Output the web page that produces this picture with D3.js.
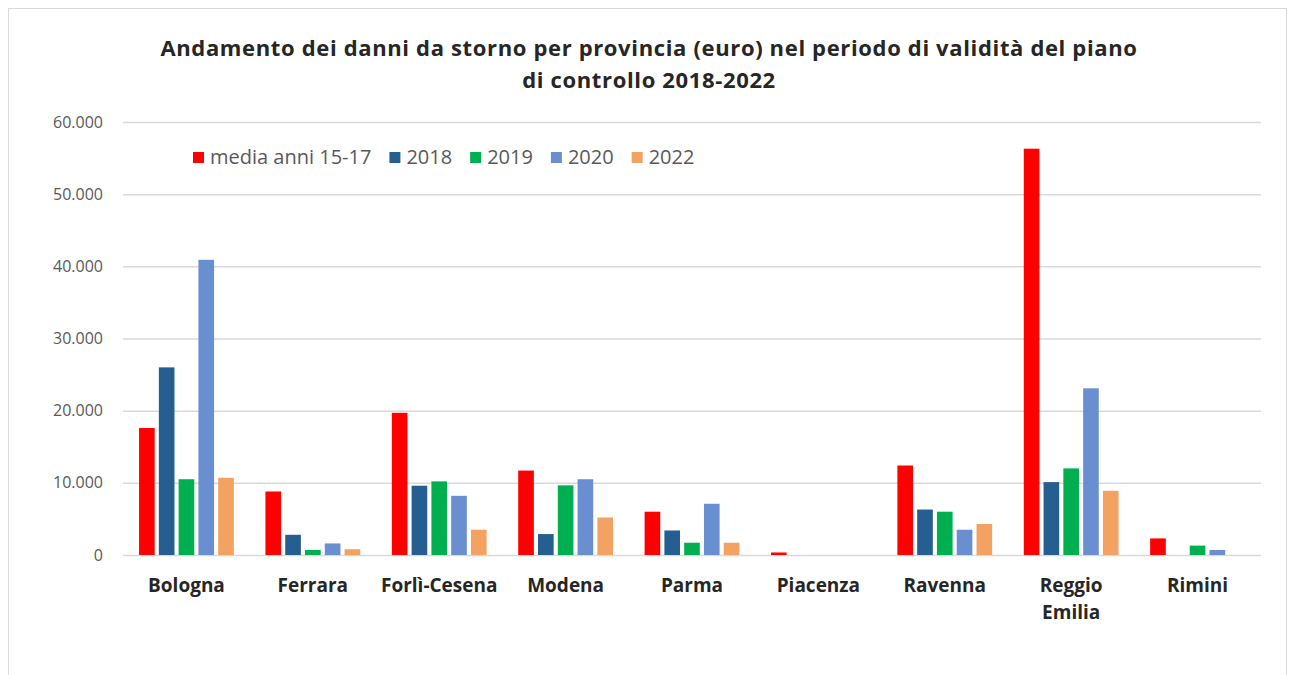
<!DOCTYPE html>
<html>
<head>
<meta charset="utf-8">
<script src="https://cdn.jsdelivr.net/npm/d3@7"></script>
<style>
  html, body { margin: 0; padding: 0; background: #fff; }
  svg { display: block; }
</style>
</head>
<body>
<svg id="chart" width="1290" height="675"></svg>
<script>
const categories = ["Bologna", "Ferrara", "Forlì-Cesena", "Modena", "Parma", "Piacenza", "Ravenna", "Reggio Emilia", "Rimini"];
const seriesNames = ["media anni 15-17", "2018", "2019", "2020", "2022"];
const media1517 = [17600, 8800, 19700, 11700, 6000, 350, 12400, 56300, 2300];
const y2018 = [26000, 2800, 9600, 2900, 3400, 0, 6300, 10100, 0];
const y2019 = [10500, 700, 10200, 9650, 1700, 0, 6000, 12000, 1300];
const y2020 = [40900, 1600, 8200, 10500, 7100, 0, 3500, 23100, 700];
const y2022 = [10700, 800, 3500, 5200, 1700, 0, 4300, 8900, 0];
const yTicks = [0, 10000, 20000, 30000, 40000, 50000, 60000];
const colors = ["#ff0000", "#255e91", "#00b050", "#6a8fd1", "#f4a261"];
const titleLines = ["Andamento dei danni da storno per provincia (euro) nel periodo di validità del piano", "di controllo 2018-2022"];

const seriesValues = [media1517, y2018, y2019, y2020, y2022];
const svg = d3.select("#chart");
const font = "'Open Sans', sans-serif";

// frame
svg.append("rect").attr("x", 8.5).attr("y", 8.5).attr("width", 1278).attr("height", 700)
  .attr("fill", "#fff").attr("stroke", "#d9d9d9");

const mLeft = 123, mRight = 1261, mTop = 122, mBottom = 555;
const x0 = d3.scaleBand().domain(categories).range([mLeft, mRight]).paddingInner(0.25).paddingOuter(0.127);
const x1 = d3.scaleBand().domain(seriesNames).range([0, x0.bandwidth()]).paddingInner(0.21);
const y = d3.scaleLinear().domain([0, 60000]).range([mBottom, mTop]);

const loc = d3.formatLocale({decimal: ",", thousands: ".", grouping: [3], currency: ["", "€"]});
const fmt = loc.format(",.0f");

// gridlines
const yAxis = d3.axisLeft(y).tickValues(yTicks).tickFormat(fmt).tickSize(-(mRight - mLeft)).tickPadding(20);
const gy = svg.append("g").attr("transform", `translate(${mLeft},0)`).call(yAxis);
gy.select(".domain").remove();
gy.selectAll(".tick line").attr("stroke", "#d9d9d9").attr("stroke-width", 1.5);
gy.selectAll(".tick text").attr("fill", "#595959").style("font-family", font).style("font-size", "16px");

// bars
const groups = svg.append("g").selectAll("g").data(categories).join("g")
  .attr("transform", d => `translate(${x0(d)},0)`);
groups.selectAll("rect").data((d, i) => seriesNames.map((s, j) => ({s, j, v: seriesValues[j][i]})))
  .join("rect")
  .attr("x", d => x1(d.s))
  .attr("width", x1.bandwidth())
  .attr("y", d => y(d.v))
  .attr("height", d => y(0) - y(d.v))
  .attr("fill", d => colors[d.j]);

// x labels
const xAxis = d3.axisBottom(x0).tickSize(0).tickPadding(30);
const gx = svg.append("g").attr("transform", `translate(0,${mBottom})`).call(xAxis);
gx.select(".domain").remove();
gx.selectAll(".tick text").attr("fill", "#262626").style("font-family", font).style("font-size", "19px").style("font-weight", "bold")
  .each(function(d) {
    const t = d3.select(this);
    const words = d.split(" ");
    if (words.length > 1) {
      t.text(null);
      words.forEach((w, k) => t.append("tspan").attr("x", 0).attr("dy", k === 0 ? "0.35em" : "1.45em").text(w));
      t.attr("dy", null);
    } else {
      t.attr("dy", "0.35em");
    }
  });

// title
const title = svg.append("text").attr("text-anchor", "middle").attr("fill", "#262626")
  .style("font-family", font).style("font-size", "22px").style("font-weight", "bold").style("letter-spacing", "0.65px");
titleLines.forEach((l, k) => title.append("tspan").attr("x", 649).attr("y", 56 + k * 32).text(l));

// legend
const legend = svg.append("g").attr("transform", "translate(193,157)");
let lx = 0;
seriesNames.forEach((s, j) => {
  const g = legend.append("g").attr("transform", `translate(${lx},0)`);
  g.append("rect").attr("x", 0).attr("y", -5).attr("width", 11).attr("height", 11).attr("fill", colors[j]);
  const t = g.append("text").attr("x", 17).attr("y", 0).attr("dy", "0.35em").attr("fill", "#595959")
    .style("font-family", font).style("font-size", "20px").text(s);
  lx += 17 + t.node().getComputedTextLength() + 18;
});
</script>
</body>
</html>
